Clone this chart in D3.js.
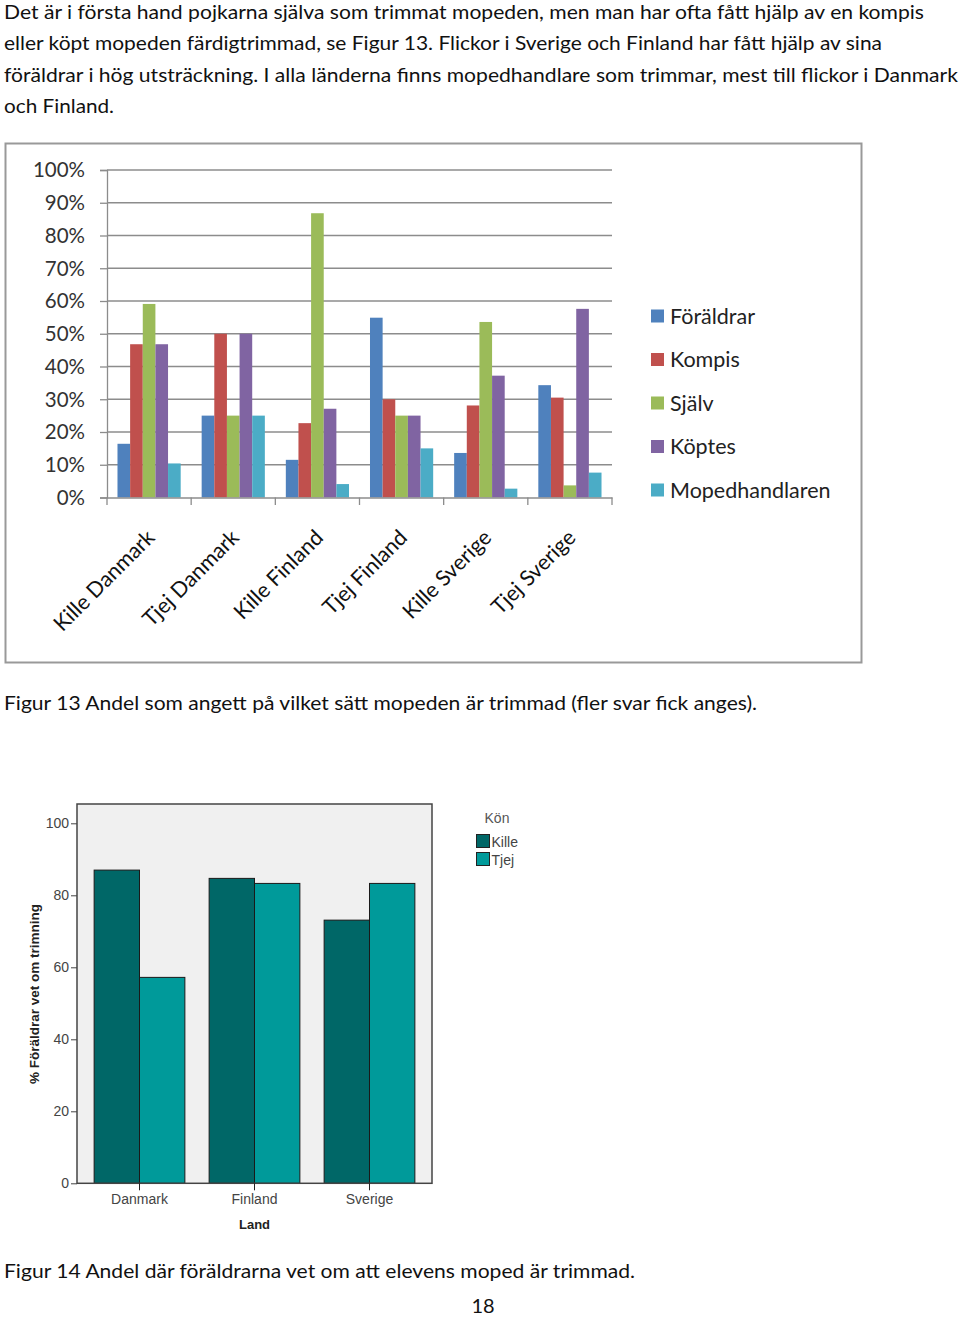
<!DOCTYPE html>
<html><head><meta charset="utf-8">
<script src="https://cdn.jsdelivr.net/npm/d3@7"></script>
<style>
html,body{margin:0;padding:0;background:#fff;}
svg{display:block;}
</style></head>
<body>
<script>
// ---------- DATA ----------
const paragraphLines = [
  "Det är i första hand pojkarna själva som trimmat mopeden, men man har ofta fått hjälp av en kompis",
  "eller köpt mopeden färdigtrimmad, se Figur 13. Flickor i Sverige och Finland har fått hjälp av sina",
  "föräldrar i hög utsträckning. I alla länderna finns mopedhandlare som trimmar, mest till flickor i Danmark",
  "och Finland."
];
const caption13 = "Figur 13 Andel som angett på vilket sätt mopeden är trimmad (fler svar fick anges).";
const caption14 = "Figur 14 Andel där föräldrarna vet om att elevens moped är trimmad.";
const pageNumber = "18";

// Figure 13
const groups13 = ["Kille Danmark","Tjej Danmark","Kille Finland","Tjej Finland","Kille Sverige","Tjej Sverige"];
const series13 = ["Föräldrar","Kompis","Själv","Köptes","Mopedhandlaren"];
const foraldrar = [16.4, 25, 11.5, 54.9, 13.6, 34.3];
const kompis    = [46.8, 50, 22.7, 30.0, 28.1, 30.5];
const sjalv     = [59.1, 25, 86.8, 25.0, 53.6, 3.7];
const koptes    = [46.8, 50, 27.1, 25.0, 37.2, 57.6];
const mopedhandlaren = [10.4, 25, 4.1, 15.0, 2.7, 7.6];
const ticks13 = [0,10,20,30,40,50,60,70,80,90,100];

// Figure 14
const countries14 = ["Danmark","Finland","Sverige"];
const genders14 = ["Kille","Tjej"];
const kille14 = [87.0, 84.7, 73.1];
const tjej14  = [57.2, 83.3, 83.3];
const ticks14 = [0,20,40,60,80,100];
const yTitle14 = "% Föräldrar vet om trimning";
const xTitle14 = "Land";
const legendTitle14 = "Kön";

// ---------- DRAW ----------
const W = 960, H = 1317;
const svg = d3.select("body").append("svg").attr("width", W).attr("height", H);
const bodyFont = "Lato, 'Open Sans', sans-serif";
const arial = "Arial, 'Liberation Sans', sans-serif";

// paragraph
const paraWidths = [920, 878, 954, 110];
svg.selectAll("text.para").data(paragraphLines).join("text")
  .attr("class","para")
  .attr("x", 4).attr("y", (d,i) => 19 + i*31.3)
  .attr("font-family", bodyFont).attr("font-size", 20).attr("fill", "#111")
  .attr("textLength", (d,i) => paraWidths[i]).attr("lengthAdjust","spacingAndGlyphs")
  .text(d => d);

// ---- Figure 13 ----
svg.append("rect").attr("x",5.5).attr("y",143.5).attr("width",856).attr("height",519)
  .attr("fill","#fff").attr("stroke","#999").attr("stroke-width",2);

const y13 = d3.scaleLinear().domain([0,100]).range([497.5,170]);
const x13 = d3.scaleBand().domain(groups13).range([107,612]).paddingInner(0).paddingOuter(0);
const xs13 = d3.scaleBand().domain(series13).range([0, x13.bandwidth()]).paddingInner(0).paddingOuter(0.83);
const colors13 = d3.scaleOrdinal().domain(series13).range(["#4F81BD","#C0504D","#9BBB59","#8064A2","#4BACC6"]);
const values13 = [foraldrar, kompis, sjalv, koptes, mopedhandlaren];

// gridlines + y axis
const yAx13 = svg.append("g").attr("transform","translate(107,0)")
  .call(d3.axisLeft(y13).tickValues(ticks13).tickSize(7).tickFormat(d => d + "%"));
yAx13.select(".domain").attr("stroke","#8c8c8c").attr("stroke-width",1.3);
yAx13.selectAll(".tick line").attr("stroke","#8c8c8c").attr("stroke-width",1.3);
yAx13.selectAll(".tick text").attr("font-family", bodyFont).attr("font-size",20.5).attr("fill","#333").attr("x",-22).attr("dy","0.34em");
svg.append("g").selectAll("line").data(ticks13.filter(t => t>0)).join("line")
  .attr("x1",107).attr("x2",612).attr("y1",d=>y13(d)).attr("y2",d=>y13(d))
  .attr("stroke","#8c8c8c").attr("stroke-width",1.3);

// bars
const bars13 = [];
groups13.forEach((g,gi) => series13.forEach((s,si) => bars13.push({g, s, v: values13[si][gi]})));
svg.append("g").selectAll("rect").data(bars13).join("rect")
  .attr("x", d => x13(d.g) + xs13(d.s)).attr("width", xs13.bandwidth())
  .attr("y", d => y13(d.v)).attr("height", d => y13(0) - y13(d.v))
  .attr("fill", d => colors13(d.s));

// x axis
const xAx13 = svg.append("g").attr("transform","translate(0,497.5)")
  .call(d3.axisBottom(x13).tickSize(0).tickFormat(""));
xAx13.select(".domain").attr("stroke","#8c8c8c").attr("stroke-width",1.3);
const bounds13 = groups13.map(g => x13(g)).concat([x13.range()[1]]);
svg.append("g").selectAll("line").data(bounds13).join("line")
  .attr("x1",d=>d).attr("x2",d=>d).attr("y1",497.5).attr("y2",505)
  .attr("stroke","#8c8c8c").attr("stroke-width",1.3);
svg.append("g").selectAll("text").data(groups13).join("text")
  .attr("transform", d => `translate(${x13(d)+x13.bandwidth()/2+7},${539}) rotate(-45)`)
  .attr("text-anchor","end")
  .attr("font-family", bodyFont).attr("font-size",21.5).attr("fill","#111")
  .text(d => d);

// legend
const leg13 = svg.append("g").selectAll("g").data(series13).join("g")
  .attr("transform", (d,i) => `translate(651,${316 + i*43.5})`);
leg13.append("rect").attr("x",0).attr("y",-6.5).attr("width",13).attr("height",13).attr("fill", d => colors13(d));
leg13.append("text").attr("x",19).attr("dy","0.36em")
  .attr("font-family", bodyFont).attr("font-size",21.5).attr("fill","#222").text(d => d);

// caption 13
svg.append("text").attr("x",4).attr("y",710).attr("font-family",bodyFont).attr("font-size",20).attr("fill","#111")
  .attr("textLength",753).attr("lengthAdjust","spacingAndGlyphs").text(caption13);

// ---- Figure 14 ----
const plot14 = {x0:77, x1:432, y0:804, y1:1183.3};
const y14 = d3.scaleLinear().domain([0,100]).range([1183.3, 823.3]);
const x14 = d3.scaleBand().domain(countries14).range([plot14.x0, plot14.x1]).paddingInner(0.211).paddingOuter(0.149);
const xs14 = d3.scaleBand().domain(genders14).range([0, x14.bandwidth()]);
const colors14 = d3.scaleOrdinal().domain(genders14).range(["#006767","#009a9a"]);
const values14 = [kille14, tjej14];

svg.append("rect").attr("x",plot14.x0).attr("y",plot14.y0)
  .attr("width",plot14.x1-plot14.x0).attr("height",plot14.y1-plot14.y0)
  .attr("fill","#f0f0f0");

const bars14 = [];
countries14.forEach((c,ci) => genders14.forEach((g,gi) => bars14.push({c, g, v: values14[gi][ci]})));
svg.append("g").selectAll("rect").data(bars14).join("rect")
  .attr("x", d => x14(d.c) + xs14(d.g)).attr("width", xs14.bandwidth())
  .attr("y", d => y14(d.v)).attr("height", d => y14(0) - y14(d.v))
  .attr("fill", d => colors14(d.g)).attr("stroke","#1a1a1a").attr("stroke-width",1);

svg.append("rect").attr("x",plot14.x0).attr("y",plot14.y0)
  .attr("width",plot14.x1-plot14.x0).attr("height",plot14.y1-plot14.y0)
  .attr("fill","none").attr("stroke","#444").attr("stroke-width",1.5);

const yAx14 = svg.append("g").attr("transform",`translate(${plot14.x0},0)`)
  .call(d3.axisLeft(y14).tickValues(ticks14).tickSize(6).tickPadding(2));
yAx14.select(".domain").remove();
yAx14.selectAll(".tick line").attr("stroke","#444");
yAx14.selectAll(".tick text").attr("font-family",arial).attr("font-size",14).attr("fill","#444");

const xAx14 = svg.append("g").attr("transform",`translate(0,${plot14.y1})`)
  .call(d3.axisBottom(x14).tickSize(7).tickPadding(4));
xAx14.select(".domain").remove();
xAx14.selectAll(".tick line").attr("stroke","#222");
xAx14.selectAll(".tick text").attr("font-family",arial).attr("font-size",14).attr("fill","#444");

svg.append("text").attr("x", (plot14.x0+plot14.x1)/2).attr("y",1229).attr("text-anchor","middle")
  .attr("font-family",arial).attr("font-size",13).attr("font-weight","bold").attr("fill","#222")
  .text(xTitle14);
svg.append("text").attr("transform","translate(39,994) rotate(-90)").attr("text-anchor","middle")
  .attr("font-family",arial).attr("font-size",13.5).attr("font-weight","bold").attr("fill","#222")
  .text(yTitle14);

// legend 14
svg.append("text").attr("x",497).attr("y",823).attr("text-anchor","middle")
  .attr("font-family",arial).attr("font-size",14).attr("fill","#555").text(legendTitle14);
const leg14 = svg.append("g").selectAll("g").data(genders14).join("g")
  .attr("transform",(d,i) => `translate(476.5,${834.5 + i*18})`);
leg14.append("rect").attr("width",13).attr("height",13).attr("fill", d => colors14(d)).attr("stroke","#222").attr("stroke-width",1);
leg14.append("text").attr("x",15).attr("y",12).attr("font-family",arial).attr("font-size",14).attr("fill","#444").text(d => d);

// caption 14 + page number
svg.append("text").attr("x",4).attr("y",1278).attr("font-family",bodyFont).attr("font-size",20).attr("fill","#111")
  .attr("textLength",631).attr("lengthAdjust","spacingAndGlyphs").text(caption14);
svg.append("text").attr("x",483).attr("y",1313).attr("text-anchor","middle").attr("font-family",bodyFont).attr("font-size",20).attr("fill","#111").text(pageNumber);
</script>
</body></html>
